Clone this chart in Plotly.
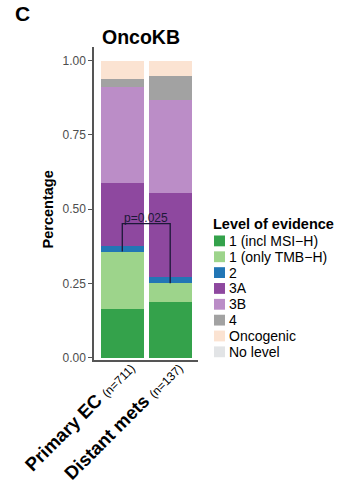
import plotly.graph_objects as go

categories = ["Primary EC", "Distant mets"]
n_labels = ["(n=711)", "(n=137)"]
levels = ["1 (incl MSI\u2212H)", "1 (only TMB\u2212H)", "2", "3A", "3B", "4", "Oncogenic", "No level"]
colors = ["#34a24b", "#9dd48b", "#2276b5", "#8e489f", "#bb8dc7", "#a2a2a2", "#fbe3d2", "#e2e4e6"]
primary_vals = [0.163, 0.194, 0.019, 0.212, 0.325, 0.027, 0.060, 0.0]
mets_vals = [0.186, 0.064, 0.022, 0.284, 0.311, 0.081, 0.052, 0.0]
yticks = [0.0, 0.25, 0.5, 0.75, 1.0]
ytick_labels = ["0.00", "0.25", "0.50", "0.75", "1.00"]
p_text = "p=0.025"
bracket_y = [0.357, 0.451, 0.451, 0.250]

W, H = 354, 496
L, R, T, B = 94, 198, 47, 365

def px(x):
    return (x - L) / (R - L)

def py(y):
    return (B - y) / (B - T)

fig = go.Figure()
for i, lev in enumerate(levels):
    fig.add_trace(go.Bar(
        x=categories, y=[primary_vals[i], mets_vals[i]], name=lev,
        marker=dict(color=colors[i], line=dict(width=0)), width=0.9,
        showlegend=False, hoverinfo="skip"))

fig.add_trace(go.Scatter(
    x=[categories[0], categories[0], categories[1], categories[1]], y=bracket_y,
    mode="lines", line=dict(color="#1c1838", width=1.3), showlegend=False, hoverinfo="skip"))

ticktext = [f"<b>{c}</b> <span style='font-size:12px'>{n}</span>" for c, n in zip(categories, n_labels)]

fig.update_layout(
    width=W, height=H, barmode="stack", bargap=0.1,
    margin=dict(l=L, r=W - R, t=T, b=H - B),
    paper_bgcolor="white", plot_bgcolor="white",
    font=dict(family="Liberation Sans, Arial, sans-serif", color="black"),
    xaxis=dict(type="category", range=[-0.59, 1.58], tickvals=categories, ticktext=ticktext,
               tickangle=-45, tickfont=dict(size=18.5, color="black"), showline=True,
               linecolor="#555555", linewidth=1.5, ticks="", showgrid=False, zeroline=False,
               ticklabelstandoff=-12, ticklabelshift=7),
    yaxis=dict(range=[-0.0083, 1.0464], tickvals=yticks, ticktext=ytick_labels,
               tickfont=dict(size=12, color="#4d4d4d"), ticks="outside", ticklen=4,
               tickcolor="#555555", tickwidth=1, showline=True, linecolor="#555555",
               linewidth=1.5, showgrid=False, zeroline=False),
)

ann = []
ann.append(dict(text="<b>Percentage</b>", x=px(48), y=py(212), xref="paper", yref="paper",
                xanchor="center", yanchor="middle", textangle=-90, showarrow=False,
                font=dict(size=14.5, color="black")))
ann.append(dict(text=p_text, x=0.5, y=bracket_y[1], xref="x", yref="y", showarrow=False,
                yanchor="bottom", xanchor="center", font=dict(size=12, color="#1c1838"), yshift=-3))
ann.append(dict(text="<b>OncoKB</b>", x=px(141), y=py(37), xref="paper", yref="paper",
                xanchor="center", yanchor="middle",
                showarrow=False, font=dict(size=19.5, color="black")))
ann.append(dict(text="<b>C</b>", x=px(22), y=py(13), xref="paper", yref="paper",
                xanchor="center", yanchor="middle",
                showarrow=False, font=dict(size=21, color="black")))
ann.append(dict(text="<b>Level of evidence</b>", x=px(211), y=py(226.5), xref="paper", yref="paper",
                xanchor="left", yanchor="middle", showarrow=False, font=dict(size=14.5, color="black")))
shapes = []
for i, lev in enumerate(levels):
    cy = 244 + 16.1 * i
    shapes.append(dict(type="rect", xref="paper", yref="paper", x0=px(214), x1=px(225),
                       y0=py(cy + 5.5), y1=py(cy - 5.5), fillcolor=colors[i], line=dict(width=0)))
    ann.append(dict(text=lev, x=px(227), y=py(cy), xref="paper", yref="paper", xanchor="left",
                    yanchor="middle", showarrow=False, font=dict(size=14, color="black")))
fig.update_layout(annotations=ann, shapes=shapes)

fig.write_html("out.html")
